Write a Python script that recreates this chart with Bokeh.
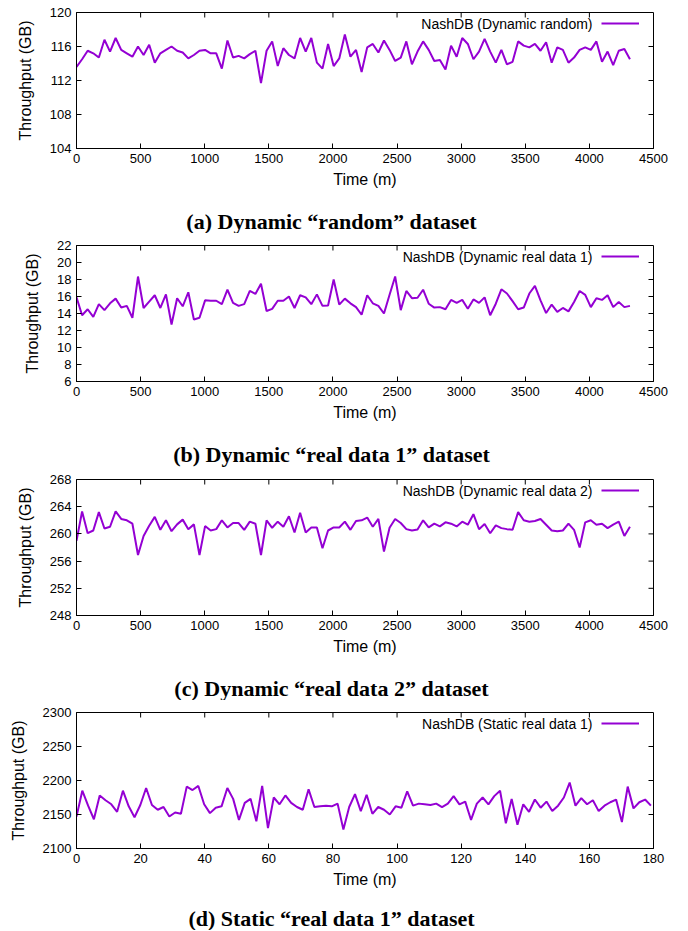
import math
from bokeh.plotting import figure
from bokeh.models import SingleIntervalTicker, Range1d, Label, Legend, LegendItem
from bokeh.layouts import column
from bokeh.embed import file_html
from bokeh.resources import INLINE

# ---------------- data ----------------
DYN_STEP_MIN = 43.6      # sampling interval of the dynamic runs (minutes)
STATIC_STEP_MIN = 1.81   # sampling interval of the static run (minutes)

random_tp = [113.6, 114.5, 115.5, 115.2, 114.7, 116.8, 115.4, 117.0, 115.6, 115.2,
             114.8, 116.0, 115.0, 116.2, 114.1, 115.2, 115.6, 116.0, 115.5, 115.3,
             114.6, 115.0, 115.5, 115.6, 115.2, 115.2, 113.4, 116.7, 114.7, 114.9,
             114.6, 115.1, 115.5, 111.7, 115.5, 116.6, 113.7, 115.8, 115.0, 114.6,
             117.0, 115.4, 117.0, 114.1, 113.4, 116.3, 113.7, 114.6, 117.4, 114.8,
             115.6, 113.0, 115.9, 116.3, 115.3, 116.7, 115.6, 114.3, 114.7, 116.6,
             113.9, 115.4, 116.6, 115.6, 114.3, 114.4, 113.3, 116.1, 114.8, 117.0,
             116.3, 114.5, 115.4, 116.9, 115.4, 114.1, 115.6, 113.9, 114.2, 116.6,
             116.1, 115.9, 116.3, 115.5, 116.5, 114.1, 115.9, 115.6, 114.1, 114.7,
             115.6, 115.9, 115.6, 116.6, 114.2, 115.4, 113.8, 115.5, 115.7, 114.5]

real1_tp = [15.9, 13.8, 14.5, 13.6, 15.1, 14.4, 15.2, 15.75, 14.7, 14.9,
            13.5, 18.35, 14.65, 15.4, 16.15, 14.65, 16.25, 12.7, 15.8, 14.85,
            16.5, 13.3, 13.5, 15.55, 15.5, 15.5, 15.1, 16.8, 15.25, 14.9,
            15.1, 16.65, 16.3, 17.5, 14.3, 14.55, 15.5, 15.5, 16.0, 14.65,
            16.15, 15.9, 15.1, 16.25, 14.9, 14.95, 18.0, 15.05, 15.75, 15.2,
            14.75, 13.85, 16.15, 15.2, 14.9, 14.0, 16.2, 18.35, 14.4, 16.65,
            15.8, 15.85, 16.8, 15.15, 14.7, 14.75, 14.5, 15.6, 15.25, 15.6,
            14.55, 15.65, 15.25, 15.9, 13.8, 15.15, 16.85, 16.35, 15.45, 14.5,
            14.7, 16.35, 17.25, 15.55, 14.05, 15.05, 14.2, 14.65, 14.25, 15.35,
            16.65, 16.2, 14.75, 15.8, 15.6, 16.15, 14.75, 15.35, 14.75, 14.9]

real2_tp = [259.0, 263.3, 260.1, 260.5, 263.2, 260.8, 261.05, 263.3, 262.2, 262.0,
            261.5, 256.9, 259.7, 261.2, 262.5, 260.6, 262.0, 260.4, 261.4, 262.1,
            260.7, 261.4, 256.9, 261.15, 260.5, 260.7, 262.0, 260.95, 261.6, 261.6,
            260.6, 261.8, 261.5, 256.9, 262.0, 260.9, 261.8, 261.05, 262.6, 260.2,
            263.1, 260.2, 260.95, 260.95, 257.9, 260.5, 260.95, 260.95, 261.8, 260.6,
            261.9, 262.0, 262.4, 261.05, 262.2, 257.4, 260.9, 262.2, 261.6, 260.7,
            260.5, 260.65, 262.0, 260.95, 261.5, 261.1, 261.7, 261.5, 261.1, 261.8,
            261.35, 262.9, 260.7, 261.45, 260.1, 261.25, 260.85, 260.7, 260.6, 263.2,
            262.0, 261.8, 261.9, 262.2, 261.35, 260.5, 260.4, 260.5, 261.5, 260.6,
            258.0, 261.7, 262.0, 261.35, 261.5, 260.85, 261.35, 261.8, 259.7, 261.05]

static_tp = [2147, 2185, 2163, 2143, 2178, 2171, 2165, 2154, 2185, 2162,
             2146, 2164, 2189, 2164, 2157, 2161, 2147, 2153, 2151, 2191,
             2186, 2192, 2165, 2152, 2160, 2162, 2189, 2173, 2142, 2167,
             2173, 2140, 2192, 2130, 2175, 2165, 2178, 2167, 2161, 2157,
             2187, 2161, 2162, 2163, 2162, 2166, 2128, 2161, 2180, 2155,
             2179, 2151, 2161, 2157, 2150, 2162, 2160, 2184, 2163, 2166,
             2165, 2164, 2166, 2161, 2166, 2177, 2165, 2169, 2142, 2166,
             2175, 2165, 2177, 2185, 2137, 2173, 2135, 2165, 2154, 2172,
             2160, 2169, 2155, 2163, 2175, 2197, 2163, 2174, 2165, 2171,
             2155, 2163, 2168, 2172, 2139, 2191, 2159, 2168, 2172, 2163]

dyn_time = [round(i * DYN_STEP_MIN, 1) for i in range(len(random_tp))]
static_time = [round(i * STATIC_STEP_MIN, 2) for i in range(len(static_tp))]

# axis ticks
dyn_xticks = [0, 500, 1000, 1500, 2000, 2500, 3000, 3500, 4000, 4500]
static_xticks = [0, 20, 40, 60, 80, 100, 120, 140, 160, 180]
yticks_a = [104, 108, 112, 116, 120]
yticks_b = [6, 8, 10, 12, 14, 16, 18, 20, 22]
yticks_c = [248, 252, 256, 260, 264, 268]
yticks_d = [2100, 2150, 2200, 2250, 2300]

legend_texts = ["NashDB (Dynamic random)", "NashDB (Dynamic real data 1)",
                "NashDB (Dynamic real data 2)", "NashDB (Static real data 1)"]
captions = ["(a) Dynamic \u201crandom\u201d dataset",
            "(b) Dynamic \u201creal data 1\u201d dataset",
            "(c) Dynamic \u201creal data 2\u201d dataset",
            "(d) Static \u201creal data 1\u201d dataset"]

SANS = "Liberation Sans"
SERIF = "Liberation Serif"
LINE_COLOR = "#9400D3"
PAGE_W = 688
FRAME_L, FRAME_W, FRAME_H = 76, 577, 136
FRAME_TOP, FRAME_BOTTOM_BORDER = 12, 46
TICK = 5
CAPTION_CENTER_X = 331   # page x of the caption centre


def style_axis(ax, ticks):
    ax.ticker = SingleIntervalTicker(interval=ticks[1] - ticks[0], num_minor_ticks=0)
    ax.axis_line_color = "black"
    ax.major_tick_line_color = "black"
    ax.major_tick_in = TICK
    ax.major_tick_out = 0
    ax.minor_tick_line_color = None
    ax.major_label_text_font = SANS
    ax.major_label_text_font_size = "13px"
    ax.major_label_text_color = "black"
    ax.major_label_standoff = 5
    ax.axis_label_text_font = SANS
    ax.axis_label_text_font_size = "16px"
    ax.axis_label_text_font_style = "normal"
    ax.axis_label_text_color = "black"


def make_panel(x, y, xticks, yticks, legend_text):
    xmin, xmax = xticks[0], xticks[-1]
    ymin, ymax = yticks[0], yticks[-1]
    p = figure(width=PAGE_W, height=FRAME_TOP + FRAME_H + FRAME_BOTTOM_BORDER,
               output_backend="svg", toolbar_location=None,
               x_range=Range1d(xmin, xmax), y_range=Range1d(ymin, ymax),
               min_border_left=FRAME_L, min_border_right=PAGE_W - FRAME_L - FRAME_W,
               min_border_top=FRAME_TOP, min_border_bottom=FRAME_BOTTOM_BORDER)
    p.xgrid.visible = False
    p.ygrid.visible = False
    p.outline_line_color = "black"
    p.outline_line_width = 1
    p.background_fill_color = "white"
    p.border_fill_color = "white"

    style_axis(p.xaxis[0], xticks)
    style_axis(p.yaxis[0], yticks)
    p.xaxis[0].axis_label = "Time (m)"
    p.yaxis[0].axis_label = "Throughput (GB)"
    p.xaxis[0].axis_label_standoff = 5
    p.yaxis[0].axis_label_standoff = 13

    # mirrored inward ticks on the top and right edges (gnuplot "mirror")
    p.ray(x=xticks[1:-1], y=[ymax] * (len(xticks) - 2), length=TICK,
          length_units="screen", angle=-math.pi / 2, line_color="black",
          line_width=1)
    p.ray(x=[xmax] * (len(yticks) - 2), y=yticks[1:-1], length=TICK,
          length_units="screen", angle=math.pi, line_color="black",
          line_width=1)

    r = p.line(x, y, line_color=LINE_COLOR, line_width=2)

    # legend: text on the left, line sample on the right (gnuplot style)
    leg = Legend(items=[LegendItem(label=" ", renderers=[r])],
                 location=(525, FRAME_H - 11 - 7),
                 glyph_width=38, glyph_height=14, label_width=0, label_height=0,
                 label_standoff=0, padding=0, margin=0, spacing=0,
                 label_text_font_size="1px",
                 border_line_color=None, background_fill_alpha=0)
    p.add_layout(leg, "center")
    p.add_layout(Label(x=516, y=FRAME_H - 11, x_units="screen", y_units="screen",
                       text=legend_text, text_align="right", text_baseline="middle",
                       text_font=SANS, text_font_size="14px",
                       text_color="black"))
    return p


def make_caption(text, height, center_from_top):
    c = figure(width=PAGE_W, height=height, output_backend="svg",
               toolbar_location=None, x_axis_type=None, y_axis_type=None,
               x_range=Range1d(0, PAGE_W), y_range=Range1d(0, height),
               min_border=0, min_border_left=0, min_border_right=0,
               min_border_top=0, min_border_bottom=0)
    c.outline_line_color = None
    c.xgrid.visible = False
    c.ygrid.visible = False
    c.background_fill_color = "white"
    c.border_fill_color = "white"
    # the column layout aligns this frame with the plot frames (left edge at FRAME_L)
    c.add_layout(Label(x=CAPTION_CENTER_X - FRAME_L, y=height - center_from_top,
                       x_units="screen", y_units="screen",
                       text=text, text_align="center", text_baseline="middle",
                       text_font=SERIF, text_font_size="22px",
                       text_font_style="bold", text_color="black"))
    return c


pa = make_panel(dyn_time, random_tp, dyn_xticks, yticks_a, legend_texts[0])
pb = make_panel(dyn_time, real1_tp, dyn_xticks, yticks_b, legend_texts[1])
pc = make_panel(dyn_time, real2_tp, dyn_xticks, yticks_c, legend_texts[2])
pd = make_panel(static_time, static_tp, static_xticks, yticks_d, legend_texts[3])

ca = make_caption(captions[0], 39, 27)
cb = make_caption(captions[1], 40, 27)
cc = make_caption(captions[2], 39, 27)
cd = make_caption(captions[3], 36, 24)

layout = column(pa, ca, pb, cb, pc, cc, pd, cd, spacing=0)

open("out.html", "w").write(file_html(layout, INLINE))
